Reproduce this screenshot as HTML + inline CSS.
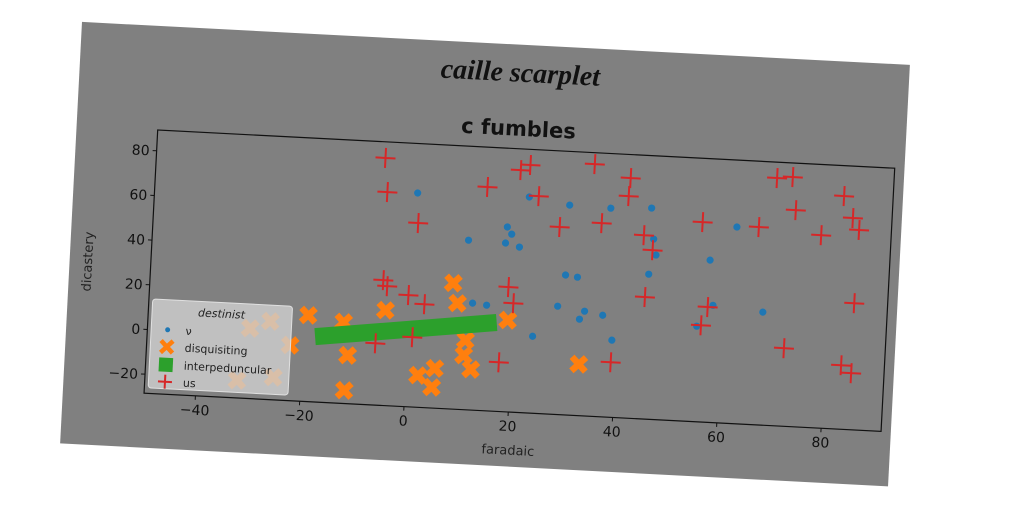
<!DOCTYPE html>
<html><head><meta charset="utf-8"><style>
html,body{margin:0;padding:0;background:#fff;}
svg{display:block;font-family:"DejaVu Sans","Liberation Sans",sans-serif;}
</style></head><body>
<svg id="chart" width="1024" height="512" viewBox="0 0 1024 512" xmlns="http://www.w3.org/2000/svg">
<g id="fig" transform="rotate(2.97 157.7 130)">
<rect x="76.5" y="26" width="829" height="422" fill="#808080"/>
<text x="517" y="63" text-anchor="middle" font-size="28" font-weight="bold" font-style="italic" font-family="'Liberation Serif',serif" fill="#111">caille scarplet</text>
<text x="518" y="117" text-anchor="middle" font-size="21" font-weight="bold" fill="#111">c fumbles</text>
<g id="plot"></g>
<rect x="157.7" y="130" width="738" height="263.5" fill="none" stroke="#111" stroke-width="1.2"/>
<g id="ticks"></g>
<text x="524" y="436" text-anchor="middle" font-size="13" fill="#222">faradaic</text>
<text transform="translate(99 265) rotate(-90)" text-anchor="middle" font-size="13" fill="#222">dicastery</text>
<g id="legend">
<rect x="161.5" y="299" width="140" height="89" rx="3" fill="#d0d0d0" fill-opacity="0.8" stroke="#e0e0e0"/>
<text x="231" y="314" text-anchor="middle" font-size="11" font-style="italic" fill="#222">destinist</text>
<g><circle cx="178" cy="329" r="2.5" fill="#1f77b4"/><text x="196" y="333" font-size="11" fill="#222">ν</text></g>
<g><path d="M172 340 l12 12 M184 340 l-12 12" stroke="#ff7f0e" stroke-width="4.5"/><text x="196" y="350" font-size="11" fill="#222">disquisiting</text></g>
<g><rect x="171" y="357" width="14" height="14" fill="#2ca02c"/><text x="196" y="368" font-size="11" fill="#222">interpeduncular</text></g>
<g><path d="M171 381 h14 M178 374 v14" stroke="#d62728" stroke-width="2"/><text x="196" y="385" font-size="11" fill="#222">us</text></g>
</g>
</g>
</svg>
<script>
const xTicks=[-40,-20,0,20,40,60,80];
const yTicks=[-20,0,20,40,60,80];
const nuX=[0.5,10.7,18.0,18.9,17.8,20.5,21.9,29.7,37.6,29.6,31.9,28.4,33.6,32.7,37.1,39.1,12.1,14.8,23.9,45.4,46.1,46.7,45.5,57.1,61.9,67.7,58.1,55.2];
const nuY=[67.2,47.3,54.1,51.0,46.9,45.4,68.0,65.3,64.9,34.0,33.3,19.9,18.3,14.6,16.9,6.0,19.3,18.7,5.9,65.9,52.1,45.0,36.3,44.0,59.4,22.0,23.9,14.2];
const disX=[-19.2,-4.5,8.2,9.2,19.0,-12.4,-11.3,-11.6,-22.4,11.1,10.9,12.4,2.3,5.5,5.1,33.0,-30.2,-26.4,-32.2,-25.3];
const disY=[10.1,14.1,27.8,18.9,12.5,7.8,-6.9,-22.6,-3.7,2.6,-4.2,-10.3,-14.2,-10.7,-19.2,-5.5,2.9,6.5,-20.6,-18.4];
const intX=[-17.7,16.9];
const intY=[0.7,11.2];
const usX=[-6.0,-5.3,0.9,-5.2,-4.4,-0.25,2.9,-6.1,0.9,18.8,19.9,17.7,13.8,20.0,21.8,23.7,28.0,34.1,36.0,39.1,41.1,40.9,44.2,46.0,45.0,55.3,57.1,56.0,66.1,69.1,72.1,73.0,82.1,84.0,85.3,78.1,85.1,72.1,83.2,85.2];
const usY=[82.1,66.9,53.8,27.5,24.9,21.4,17.7,-0.9,2.7,27.3,20.2,-6.5,71.5,79.8,82.3,68.6,55.3,84.2,58.0,-3.9,78.8,70.7,53.6,47.1,26.0,60.8,23.0,14.7,59.9,82.2,83.0,68.3,75.7,66.1,60.9,57.7,28.1,6.4,0.1,-3.2];

const NS='http://www.w3.org/2000/svg';
const L=157.7,T=130,W=738,H=263.5,X0=-49.85,X1=91.5,Y0=-28.5,Y1=89.3;
function sx(v){return L+(v-X0)/(X1-X0)*W;}
function sy(v){return T+H-(v-Y0)/(Y1-Y0)*H;}
function mk(tag,attrs,parent){const e=document.createElementNS(NS,tag);for(const k in attrs)e.setAttribute(k,attrs[k]);parent.appendChild(e);return e;}
const plot=document.getElementById('plot');
const ticks=document.getElementById('ticks');

xTicks.forEach(v=>{
  const g=mk('g',{},ticks);
  
  
  mk('line',{x1:sx(v),x2:sx(v),y1:T+H,y2:T+H+4,stroke:'#111','stroke-width':1},g);
  const t=mk('text',{x:sx(v),y:T+H+19,'text-anchor':'middle','font-size':14,fill:'#111'},g);
  t.textContent=v<0?'\u2212'+Math.abs(v):String(v);
});
yTicks.forEach(v=>{
  const g=mk('g',{},ticks);
  
  
  mk('line',{x1:L-4,x2:L,y1:sy(v),y2:sy(v),stroke:'#111','stroke-width':1},g);
  const t=mk('text',{x:L-7,y:sy(v)+5,'text-anchor':'end','font-size':14,fill:'#111'},g);
  t.textContent=v<0?'\u2212'+Math.abs(v):String(v);
});

nuX.forEach((x,i)=>{
  const c=mk('circle',{cx:sx(x),cy:sy(nuY[i]),r:3.6,fill:'#1f77b4'},plot);
  
  
});
disX.forEach((x,i)=>{
  const cx=sx(x),cy=sy(disY[i]),s=7;
  const p=mk('path',{d:`M${cx-s} ${cy-s} L${cx+s} ${cy+s} M${cx+s} ${cy-s} L${cx-s} ${cy+s}`,stroke:'#ff7f0e','stroke-width':6.5},plot);
  
  
});
const ln=mk('line',{x1:sx(intX[0]),y1:sy(intY[0]),x2:sx(intX[1]),y2:sy(intY[1]),stroke:'#2ca02c','stroke-width':17},plot);


usX.forEach((x,i)=>{
  const cx=sx(x),cy=sy(usY[i]),s=10;
  const p=mk('path',{d:`M${cx-s} ${cy} L${cx+s} ${cy} M${cx} ${cy-s} L${cx} ${cy+s}`,stroke:'#d62728','stroke-width':2},plot);
  
  
});
</script>
</body></html>
